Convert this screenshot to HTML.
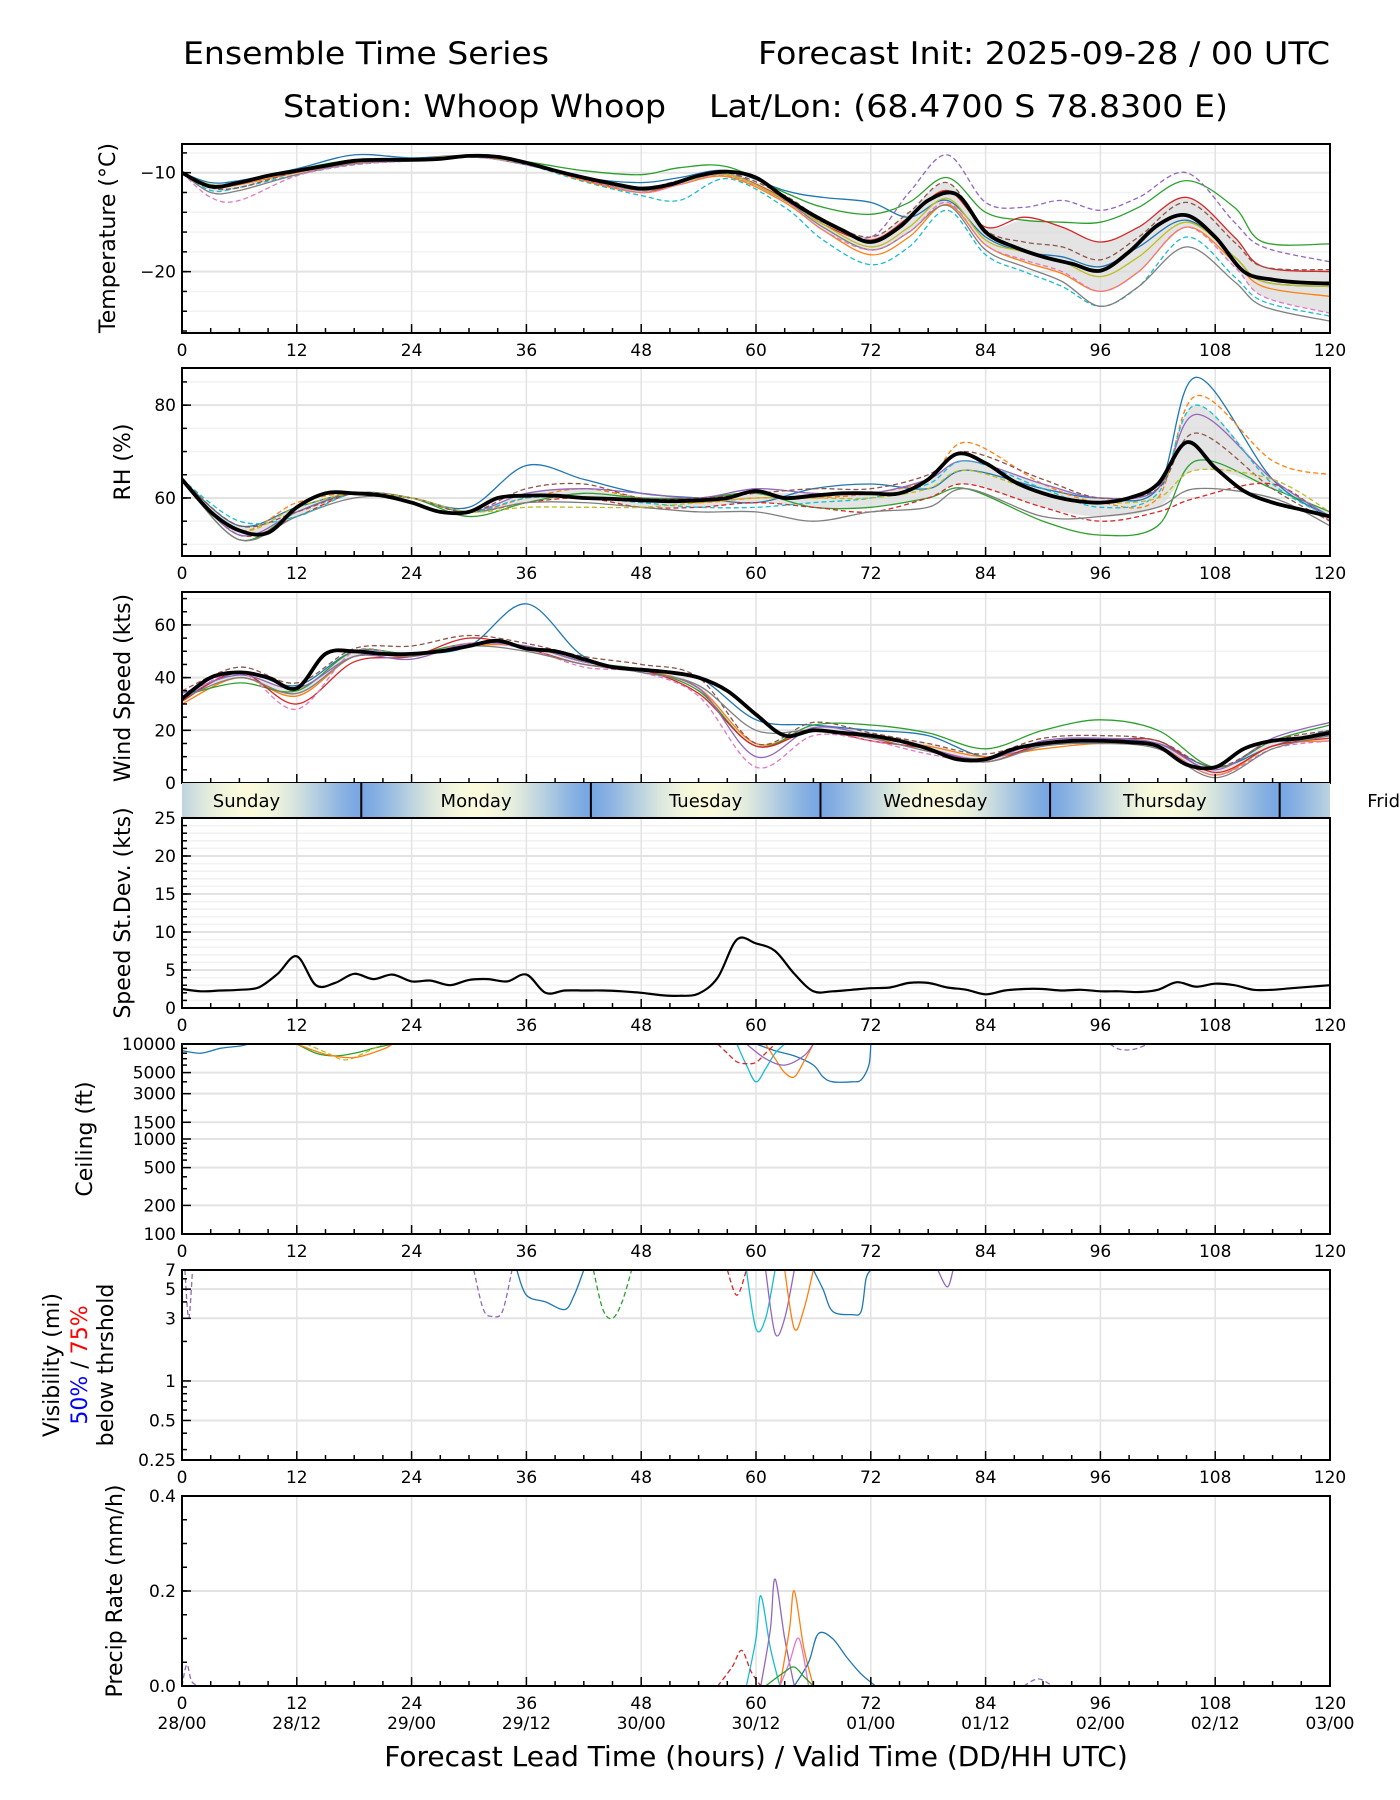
<!DOCTYPE html>
<html><head><meta charset="utf-8"><title>Ensemble Time Series</title>
<style>
html,body{margin:0;padding:0;background:#fff;}
svg{display:block;font-family:"DejaVu Sans","Liberation Sans",sans-serif;}
</style></head>
<body>
<svg id="fig" width="1400" height="1800" viewBox="0 0 1400 1800" xmlns="http://www.w3.org/2000/svg">
<defs id="defs"></defs>
<rect width="1400" height="1800" fill="#fff"/>
<text x="183" y="64" font-size="31" textLength="366" lengthAdjust="spacingAndGlyphs">Ensemble Time Series</text>
<text x="758" y="64" font-size="31" textLength="572" lengthAdjust="spacingAndGlyphs">Forecast Init: 2025-09-28 / 00 UTC</text>
<text x="283" y="117" font-size="31" textLength="383" lengthAdjust="spacingAndGlyphs">Station: Whoop Whoop</text>
<text x="709" y="117" font-size="31" textLength="519" lengthAdjust="spacingAndGlyphs">Lat/Lon: (68.4700 S 78.8300 E)</text>
<g id="root"></g>
</svg>
<script>
// ---------- data ----------
const meanHours=[0,3,6,9,12,15,18,21,24,27,30,33,36,39,42,45,48,51,54,57,60,63,66,69,72,75,78,81,84,87,90,93,96,99,102,105,108,111,114,117,120];
const memHours=[0,6,12,18,24,30,36,42,48,54,60,66,72,78,84,90,96,102,108,114,120];
const tempHours=[0,3,6,12,18,24,30,36,42,48,52,57,63,67,72,76,80,84,88,92,96,100,105,110,113,120];
const rhHours=[0,6,12,18,24,30,36,42,48,54,60,66,72,78,82,90,96,102,106,114,120];
const tempMean=[-10,-11.4,-11,-10.3,-9.8,-9.3,-8.8,-8.7,-8.7,-8.6,-8.3,-8.4,-9.0,-9.8,-10.5,-11.1,-11.6,-11.2,-10.3,-9.9,-10.5,-12.5,-14.3,-15.8,-17.0,-15.5,-12.8,-12.2,-16.0,-17.5,-18.5,-19.2,-19.9,-18.0,-15.3,-14.3,-16.5,-20.0,-20.8,-21.1,-21.2];
const tempM1=[-10,-11,-10.8,-9.6,-8.2,-8.5,-8.3,-9.2,-10.5,-11.0,-10.5,-9.8,-11.8,-12.5,-13,-14.5,-12.8,-16.5,-18,-18.5,-19.5,-17.5,-14.8,-18.5,-21,-21.5];
const tempM2=[-10,-11.2,-11,-9.7,-8.7,-8.8,-8.4,-8.9,-9.8,-10.2,-9.5,-9.4,-12,-13.5,-14.2,-13,-10.5,-14,-14.8,-15,-15,-13.5,-10.8,-13.5,-17,-17.2];
const tempM3=[-10,-11.5,-11.5,-9.9,-8.8,-8.7,-8.3,-9.0,-10.5,-11.8,-11,-10,-12.8,-15,-16.5,-12,-8.2,-13,-13.5,-12.8,-13.8,-12.5,-10,-15,-17.5,-19];
const tempM4=[-10,-11.3,-11,-9.8,-8.9,-8.7,-8.3,-9.1,-10.7,-12.0,-11,-10.2,-12.6,-15.2,-16.8,-14.5,-11.8,-15.5,-14.5,-15.5,-17,-15.5,-12.5,-16.5,-19.5,-20];
const tempM5=[-10,-11.8,-11.5,-10.2,-9.2,-8.8,-8.4,-9.2,-10.9,-12.3,-12.8,-10.6,-13.5,-16.8,-19.3,-17.5,-13.8,-18.3,-20,-21.5,-23.5,-21.5,-16.5,-20.5,-23,-24.5];
const tempM6=[-10,-11.5,-11.2,-10,-9,-8.7,-8.3,-9.1,-10.8,-12,-11.2,-10.4,-13,-15.8,-18.3,-16.5,-13.2,-17.3,-19,-20.2,-22,-20,-15.5,-19,-21.5,-22.5];
const tempM7=[-10,-12,-11.8,-10.2,-9.1,-8.8,-8.4,-9.1,-10.6,-11.8,-11,-10.2,-12.8,-15.5,-17.8,-16,-13.3,-17.8,-19.5,-21,-23.5,-21.5,-17.5,-21,-23.5,-25];
const tempM8=[-10,-12.5,-12.8,-10.3,-9.2,-8.8,-8.4,-9.2,-10.7,-12,-11.2,-10.3,-12.8,-15.8,-17.8,-16,-13,-17.3,-18.8,-20,-22,-20,-15.5,-19.5,-22.5,-24.2];
const tempM9=[-10,-11.5,-11.5,-9.9,-8.8,-8.6,-8.3,-9.0,-10.5,-11.5,-10.8,-10,-12.3,-14.8,-16.5,-14,-11,-15.8,-17,-17.5,-18.8,-16.5,-13,-17,-19.5,-19.8];
const tempM10=[-10,-11.2,-11,-9.8,-8.9,-8.7,-8.3,-9.1,-10.6,-11.7,-11,-10.2,-12.7,-15.2,-17.5,-15.5,-12.6,-16.8,-18,-19,-20.5,-18.5,-15,-18.5,-21,-21.5];

const rhMean=[64,57,53,52.5,58,61,61,60.5,59,57,57,60,60.5,60.5,60,59.8,59.5,59.3,59.5,60,61.5,60,60.5,61,61,61,64,69.5,67.5,63.5,61,59.5,59,60,63,72,66.5,61.5,59,57.5,56];
const rhM1=[64,54,58,61,60,58,67,64,61,60,59,62,63,62,66,62,60,62,86,64,56];
const rhM2=[64,53,59,61,60,57,60,62,60,59,60,60,61,64,72,63,59,60,82,68,65];
const rhM3=[64,51,57,61,60,56,59,61,60,60,61,58,58,60,62,55,52,54,68,62,57];
const rhM4=[64,52,56,61,60,57,59,60,58,58,59,58,57,60,63,58,55,57,60,63,55];
const rhM5=[64,52,57,61,60,57,61,62,61,60,62,61,61,64,68,63,60,62,78,64,56];
const rhM6=[64,51,56,60,60,57,59,59,58,57,57,55,57,58,62,56,56,58,62,60,54];
const rhM7=[64,55,56,61,60,57,60,60,59,58,58,59,60,63,68,62,58,61,80,63,56];
const rhM8=[64,54,57,61,60,57,62,63,60,60,61,62,62,65,70,64,60,62,74,62,55];
const rhM9=[64,53,58,61,60,57,58,58,58,59,60,60,60,62,66,61,59,60,66,64,57];

const windMean=[32,40,42,40,36,49,50,49,49,50,52,54,51,50,47,44,43,42,40,35,26,18,20,19,18,16,13,9,9,13,15,16,16,15.5,14,7,6,13,16,17,19];
const windM1=[32,42,37,50,49,52,68,48,43,40,24,22,20,18,10,14,16,15,6,14,20];
const windM2=[30,40,33,48,48,52,52,46,43,36,15,20,17,14,10,13,15,14,3,14,16];
const windM3=[33,38,35,50,49,53,52,46,43,35,14,22,22,19,13,20,24,20,6,16,22];
const windM4=[31,42,30,46,48,55,51,45,43,34,14,20,16,13,8,15,16,16,4,14,17];
const windM5=[34,41,36,48,47,53,52,46,42,36,10,21,18,13,9,16,17,15,5,17,23];
const windM6=[35,44,38,51,52,56,53,48,45,40,15,23,19,15,11,17,18,16,6,16,20];
const windM7=[32,42,28,50,48,53,51,44,42,33,6,18,16,11,8,14,15,14,3,13,16];
const windM8=[32,40,34,48,48,52,50,45,42,37,20,20,17,12,8,14,15,13,2,13,18];

const sdHours=[0,2,4,6,8,10,12,14,16,18,20,22,24,26,28,30,32,34,36,38,40,42,44,46,48,50,52,54,56,58,60,62,64,66,68,70,72,74,76,78,80,82,84,86,88,90,92,94,96,98,100,102,104,106,108,110,112,114,116,118,120];
const sdValues=[2.5,2.2,2.3,2.4,2.7,4.5,6.8,3.0,3.3,4.5,3.8,4.4,3.5,3.6,3.0,3.7,3.8,3.5,4.4,2.0,2.3,2.3,2.3,2.2,2.0,1.7,1.6,1.9,4.0,9.0,8.5,7.5,4.5,2.2,2.2,2.4,2.6,2.7,3.3,3.3,2.7,2.4,1.8,2.3,2.5,2.5,2.3,2.4,2.2,2.2,2.1,2.4,3.4,2.8,3.2,3.0,2.4,2.4,2.6,2.8,3.0];

const ceilBlueH=[60,62,64,66,67,68,70,71,71.8,72], ceilBlueV=[10000,8500,7500,6000,4500,4000,4000,4200,6000,10000];
const ceilCyanH=[58,59,60,61,62,63], ceilCyanV=[10000,6000,4000,5500,8000,10000];
const ceilOrangeH=[61,62,63,64,65,66], ceilOrangeV=[10000,7000,5000,4500,6500,10000];
const ceilRedH=[56,57,58,59,60,61,62], ceilRedV=[10000,8000,6500,6200,6400,8000,10000];
const ceilPurpleH=[59,61,63,65,66], ceilPurpleV=[10000,7000,6000,7500,10000];
const ceilGreenH=[12,14,16,18,20,22], ceilGreenV=[10000,8000,7500,8000,9000,10000];
const ceilOliveH=[13,15,17,19,21], ceilOliveV=[10000,8200,6800,8000,10000];
const ceilTealH=[12,15,18,21,22], ceilTealV=[10000,7800,7200,8800,10000];
const ceilEarlyH=[0,2,4,6,7], ceilEarlyV=[8500,8000,9000,9500,10000];
const ceilLateH=[97,98,99.5,101], ceilLateV=[10000,8800,8800,10000];

const visBlue1H=[35,36,38,40,41,42], visBlue1V=[7,4.5,4,3.5,4.5,7];
const visBlue2H=[66,67,68,70,71,71.5,72], visBlue2V=[7,5,3.4,3.2,3.4,6,7];
const visPurpleDH=[30.5,31.5,32.5,33.5,34.5], visPurpleDV=[7,3.5,3.1,3.4,7];
const visGreenDH=[43,44,45,46,47], visGreenDV=[7,3.5,3,4,7];
const visCyanH=[59,60,61,62], visCyanV=[7,2.5,3,7];
const visPurpleH=[61,62,63,64], visPurpleV=[7,2.3,3,7];
const visOrangeH=[63,64,65,66], visOrangeV=[7,2.5,3.5,7];
const visRedDH=[57,58,59], visRedDV=[7,4.5,7];
const visEarlyH=[0.3,0.7,1.1], visEarlyV=[7,3,7];
const visLateH=[79,80,80.6], visLateV=[7,5.2,7];

const prCyanH=[59,60,60.5,61.5,62.5], prCyanV=[0,0.1,0.19,0.08,0];
const prPurpleH=[60.5,61.5,62,63,64], prPurpleV=[0,0.12,0.225,0.1,0];
const prOrangeH=[62.5,63.5,64,65,66], prOrangeV=[0,0.12,0.2,0.08,0];
const prBlueH=[64,65.5,66.5,68,69.5,71,72.5], prBlueV=[0,0.05,0.11,0.1,0.06,0.025,0];
const prRedH=[56,57.5,58.5,59.5,60.5], prRedV=[0,0.04,0.075,0.03,0];
const prPinkH=[62.5,63.5,64.5,65.5], prPinkV=[0,0.05,0.1,0];
const prGreenH=[61,63,64,65,66], prGreenV=[0,0.03,0.04,0.02,0];
const prEarlyH=[0,0.5,1,1.8], prEarlyV=[0,0.045,0.01,0];
const prLateH=[88,89.5,91], prLateV=[0,0.015,0];

// ---------- helpers ----------
const NS='http://www.w3.org/2000/svg';
const root=document.getElementById('root');
const defs=document.getElementById('defs');
const X0=182, X1=1330;
const C=['#1f77b4','#ff7f0e','#2ca02c','#d62728','#9467bd','#8c564b','#e377c2','#7f7f7f','#bcbd22','#17becf'];
function xs(h){return X0+h*(X1-X0)/120;}
function mk(tag,attrs,parent){const e=document.createElementNS(NS,tag);for(const k in attrs)e.setAttribute(k,attrs[k]);(parent||root).appendChild(e);return e;}
function linY(min,max,top,bot){return v=>bot-(v-min)/(max-min)*(bot-top);}
function logY(min,max,top,bot){const a=Math.log(min),b=Math.log(max);return v=>bot-(Math.log(v)-a)/(b-a)*(bot-top);}
function smoothPath(pts){
  let d='M'+pts[0][0].toFixed(1)+','+pts[0][1].toFixed(1);
  for(let i=0;i<pts.length-1;i++){
    const p0=pts[Math.max(0,i-1)],p1=pts[i],p2=pts[i+1],p3=pts[Math.min(pts.length-1,i+2)];
    const c1=[p1[0]+(p2[0]-p0[0])/6,p1[1]+(p2[1]-p0[1])/6];
    const c2=[p2[0]-(p3[0]-p1[0])/6,p2[1]-(p3[1]-p1[1])/6];
    d+='C'+c1[0].toFixed(1)+','+c1[1].toFixed(1)+' '+c2[0].toFixed(1)+','+c2[1].toFixed(1)+' '+p2[0].toFixed(1)+','+p2[1].toFixed(1);
  }
  return d;
}
let clipId=0;
function panel(p){
  const g=mk('g',{});
  
  
  const id='clip'+(clipId++);
  const cp=mk('clipPath',{id:id},defs);
  mk('rect',{x:X0,y:p.top,width:X1-X0,height:p.bot-p.top},cp);
  (p.minorGrid||[]).forEach(v=>{mk('line',{x1:X0,x2:X1,y1:p.y(v),y2:p.y(v),stroke:'#f2f2f2','stroke-width':1.5},g);});
  p.ticks.forEach(v=>{mk('line',{x1:X0,x2:X1,y1:p.y(v),y2:p.y(v),stroke:'#e3e3e3','stroke-width':2},g);});
  for(let h=0;h<=120;h+=12){mk('line',{x1:xs(h),x2:xs(h),y1:p.top,y2:p.bot,stroke:'#e3e3e3','stroke-width':1.5},g);}
  const data=mk('g',{'clip-path':'url(#'+id+')'},g);
  
  
  for(let h=0;h<=120;h+=3){const L=h%12===0?9:5;mk('line',{x1:xs(h),x2:xs(h),y1:p.bot,y2:p.bot-L,stroke:'#000','stroke-width':1.5},g);}
  (p.minorTicks||[]).forEach(v=>{mk('line',{x1:X0,x2:X0+5,y1:p.y(v),y2:p.y(v),stroke:'#000','stroke-width':1.5},g);});
  p.ticks.forEach((v,i)=>{
    mk('line',{x1:X0,x2:X0+9,y1:p.y(v),y2:p.y(v),stroke:'#000','stroke-width':1.5},g);
    const t=mk('text',{x:X0-6,y:p.y(v)+6,'font-size':17,'text-anchor':'end'},g);
    
    
    t.textContent=p.tickLabels[i];
  });
  if(!p.noX){
    for(let h=0;h<=120;h+=12){
      const t=mk('text',{x:xs(h),y:p.bot+23,'font-size':17,'text-anchor':'middle'},g);
      
      
      t.textContent=String(h);
    }
  }
  mk('rect',{x:X0,y:p.top,width:X1-X0,height:p.bot-p.top,fill:'none',stroke:'#000','stroke-width':2},g);
  return data;
}
function yLabel(text,x,cy,size,name){
  const t=mk('text',{x:0,y:0,'font-size':size||22,'text-anchor':'middle',transform:'translate('+x+','+cy+') rotate(-90)'});
  
  
  t.textContent=text;
  return t;
}
function line(g,hours,vals,y,color,w,dash,name){
  const pts=hours.map((h,i)=>[xs(h),y(vals[i])]);
  const a={d:smoothPath(pts),fill:'none',stroke:color,'stroke-width':w,'stroke-linejoin':'round'};
  if(dash)a['stroke-dasharray']='5,3';
  const e=mk('path',a,g);
  
  
  return e;
}
function band(g,hours,members,y,name){
  const lo=[],hi=[];
  hours.forEach((h,i)=>{
    const v=members.map(m=>m[i]).sort((a,b)=>a-b);
    lo.push([xs(h),y(v[Math.floor(v.length*0.25)])]);hi.push([xs(h),y(v[Math.ceil(v.length*0.75)-1])]);
  });
  const d=smoothPath(hi)+'L'+smoothPath(lo.slice().reverse()).slice(1)+'Z';
  const e=mk('path',{d:d,fill:'#d9d9d9','fill-opacity':0.7,stroke:'none'},g);
  
  
}
function range(a,b,s){const r=[];for(let v=a;v<=b+1e-9;v+=s)r.push(v);return r;}

// ---------- temperature ----------
(function(){
  const y=linY(-26.2,-7.1,144,333);
  const g=panel({name:'temperature-panel',top:144,bot:333,y:y,ticks:[-10,-20],tickLabels:['−10','−20'],minorTicks:range(-26,-8,2),minorGrid:range(-26,-8,2)});
  const mem=[tempM1,tempM2,tempM3,tempM4,tempM5,tempM6,tempM7,tempM8,tempM9,tempM10];
  band(g,tempHours,mem,y,'temperature-spread');
  const dash=[false,false,true,false,true,false,false,true,true,false];
  const col=[C[0],C[2],C[4],C[3],C[9],C[1],C[7],C[6],C[5],C[8]];
  mem.forEach((m,i)=>line(g,tempHours,m,y,col[i],1.3,dash[i],'temperature-member'));
  line(g,meanHours,tempMean,y,'#000',3.8,false,'temperature-mean');
  yLabel('Temperature (°C)',115,238,22,'temperature-axis-title');
})();
// ---------- RH ----------
(function(){
  const y=linY(47.5,88,368,556);
  const g=panel({name:'rh-panel',top:368,bot:556,y:y,ticks:[60,80],tickLabels:['60','80'],minorTicks:range(50,85,5),minorGrid:range(50,85,5)});
  const mem=[rhM1,rhM2,rhM3,rhM4,rhM5,rhM6,rhM7,rhM8,rhM9];
  band(g,rhHours,mem,y,'rh-spread');
  const dash=[false,true,false,true,false,false,true,true,true];
  const col=[C[0],C[1],C[2],C[3],C[4],C[7],C[9],C[5],C[8]];
  mem.forEach((m,i)=>line(g,rhHours,m,y,col[i],1.3,dash[i],'rh-member'));
  line(g,meanHours,rhMean,y,'#000',3.8,false,'rh-mean');
  yLabel('RH (%)',130,462,22,'rh-axis-title');
})();
// ---------- wind ----------
(function(){
  const y=linY(0,72.5,592,783);
  const g=panel({name:'wind-panel',top:592,bot:783,y:y,noX:true,ticks:[0,20,40,60],tickLabels:['0','20','40','60'],minorTicks:range(5,70,5),minorGrid:[10,30,50,70]});
  const mem=[windM1,windM2,windM3,windM4,windM5,windM6,windM7,windM8];
  band(g,memHours,mem,y,'wind-spread');
  const dash=[false,false,false,false,false,true,true,false];
  const col=[C[0],C[1],C[2],C[3],C[4],C[5],C[6],C[7]];
  mem.forEach((m,i)=>line(g,memHours,m,y,col[i],1.3,dash[i],'wind-member'));
  line(g,meanHours,windMean,y,'#000',3.8,false,'wind-mean');
  yLabel('Wind Speed (kts)',130,688,22,'wind-axis-title');
})();
// ---------- day band ----------
(function(){
  const tz=5.26;
  const grad=mk('linearGradient',{id:'dayGrad',gradientUnits:'userSpaceOnUse',x1:X0,x2:X1,y1:0,y2:0},defs);
  const b=[0x77,0xa6,0xe3],yel=[0xfb,0xfb,0xdc];
  for(let h=0;h<=120;h+=1){
    const L=((h+tz)%24);
    let t=(1-Math.cos(2*Math.PI*L/24))/2;t=Math.pow(t,0.7);
    const c=b.map((v,k)=>Math.round(v+(yel[k]-v)*t));
    mk('stop',{offset:(h/120).toFixed(4),'stop-color':'rgb('+c.join(',')+')'},grad);
  }
  const g=mk('g',{});
  
  
  mk('rect',{x:X0,y:783,width:X1-X0,height:35,fill:'url(#dayGrad)'},g);
  const days=['Sunday','Monday','Tuesday','Wednesday','Thursday','Friday'];
  days.forEach((d,i)=>{
    const noon=12-tz+24*i; const x=xs(Math.max(noon,6.74));
    const t=mk('text',{x:x,y:807,'font-size':18,'text-anchor':'middle'},g);
    
    
    t.textContent=d;
  });
  for(let i=0;i<5;i++){const h=24-tz+24*i;mk('line',{x1:xs(h),x2:xs(h),y1:783,y2:818,stroke:'#000','stroke-width':2},g);}
})();
// ---------- speed stdev ----------
(function(){
  const y=linY(0,25,818,1008);
  const g=panel({name:'stdev-panel',top:818,bot:1008,y:y,ticks:[0,5,10,15,20,25],tickLabels:['0','5','10','15','20','25'],minorTicks:range(1,24,1),minorGrid:range(1,24,1)});
  line(g,sdHours,sdValues,y,'#000',2.2,false,'stdev-line');
  yLabel('Speed St.Dev. (kts)',130,913,22,'stdev-axis-title');
})();
// ---------- ceiling ----------
(function(){
  const y=logY(100,10000,1044,1234);
  const g=panel({name:'ceiling-panel',top:1044,bot:1234,y:y,ticks:[100,200,500,1000,1500,3000,5000,10000],tickLabels:['100','200','500','1000','1500','3000','5000','10000'],minorTicks:[300,400,600,700,800,900,2000,4000,6000,7000,8000,9000]});
  const set=[[ceilBlueH,ceilBlueV,C[0],false],[ceilCyanH,ceilCyanV,C[9],false],[ceilOrangeH,ceilOrangeV,C[1],false],[ceilRedH,ceilRedV,C[3],true],[ceilPurpleH,ceilPurpleV,C[4],false],[ceilGreenH,ceilGreenV,C[2],false],[ceilOliveH,ceilOliveV,C[8],true],[ceilTealH,ceilTealV,C[1],false],[ceilEarlyH,ceilEarlyV,C[0],false],[ceilLateH,ceilLateV,C[4],true]];
  set.forEach(s=>line(g,s[0],s[1],y,s[2],1.3,s[3],'ceiling-member'));
  yLabel('Ceiling (ft)',92,1139,22,'ceiling-axis-title');
})();
// ---------- visibility ----------
(function(){
  const y=logY(0.25,7,1270,1460);
  const g=panel({name:'visibility-panel',top:1270,bot:1460,y:y,ticks:[0.25,0.5,1,3,5,7],tickLabels:['0.25','0.5','1','3','5','7'],minorTicks:[0.3,0.4,0.6,0.7,0.8,0.9,2,4,6]});
  const set=[[visBlue1H,visBlue1V,C[0],false],[visBlue2H,visBlue2V,C[0],false],[visPurpleDH,visPurpleDV,C[4],true],[visGreenDH,visGreenDV,C[2],true],[visCyanH,visCyanV,C[9],false],[visPurpleH,visPurpleV,C[4],false],[visOrangeH,visOrangeV,C[1],false],[visRedDH,visRedDV,C[3],true],[visEarlyH,visEarlyV,C[4],true],[visLateH,visLateV,C[4],false]];
  set.forEach(s=>line(g,s[0],s[1],y,s[2],1.3,s[3],'visibility-member'));
  yLabel('Visibility (mi)',59,1365,22,'visibility-axis-title');
  const t=mk('text',{x:0,y:0,'font-size':22,'text-anchor':'middle',transform:'translate(87,1365) rotate(-90)'});
  
  
  t.innerHTML='<tspan fill="#0000ff">50%</tspan> / <tspan fill="#ff0000">75%</tspan>';
  yLabel('below thrshold',113,1365,22,'visibility-axis-subtitle');
})();
// ---------- precip ----------
(function(){
  const y=linY(0,0.4,1496,1686);
  const g=panel({name:'precip-panel',top:1496,bot:1686,y:y,ticks:[0,0.2,0.4],tickLabels:['0.0','0.2','0.4'],minorTicks:range(0.05,0.35,0.05)});
  const set=[[prCyanH,prCyanV,C[9],false],[prPurpleH,prPurpleV,C[4],false],[prOrangeH,prOrangeV,C[1],false],[prBlueH,prBlueV,C[0],false],[prRedH,prRedV,C[3],true],[prPinkH,prPinkV,C[6],false],[prGreenH,prGreenV,C[2],false],[prEarlyH,prEarlyV,C[4],true],[prLateH,prLateV,C[4],true]];
  set.forEach(s=>line(g,s[0],s[1],y,s[2],1.3,s[3],'precip-member'));
  yLabel('Precip Rate (mm/h)',122,1591,22,'precip-axis-title');
  const dates=['28/00','28/12','29/00','29/12','30/00','30/12','01/00','01/12','02/00','02/12','03/00'];
  dates.forEach((d,i)=>{
    const t=mk('text',{x:xs(i*12),y:1729,'font-size':17,'text-anchor':'middle'});
    
    
    t.textContent=d;
  });
  const t=mk('text',{x:756,y:1766,'font-size':28,'text-anchor':'middle'});
  
  
  t.textContent='Forecast Lead Time (hours) / Valid Time (DD/HH UTC)';
})();
</script>
</body></html>
